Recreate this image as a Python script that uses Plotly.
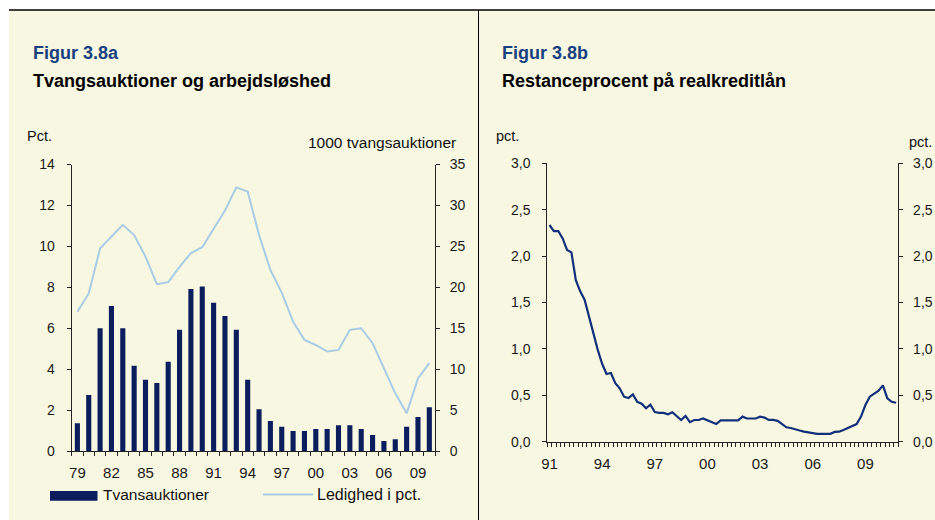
import plotly.graph_objects as go

# ---------------- data ----------------
years_a = list(range(1979, 2011))
tvangsauktioner = [3.4, 6.85, 15.0, 17.7, 15.0, 10.4, 8.7, 8.3, 10.9, 14.8,
                   19.8, 20.1, 18.1, 16.5, 14.8, 8.7, 5.1, 3.65, 2.95, 2.45,
                   2.45, 2.7, 2.7, 3.15, 3.15, 2.7, 1.95, 1.22, 1.45, 2.95,
                   4.15, 5.35]
ledighed = [6.8, 7.7, 9.9, 10.45, 11.05, 10.55, 9.5, 8.15, 8.25, 9.0,
            9.67, 9.96, 10.89, 11.75, 12.88, 12.68, 10.56, 8.85, 7.74, 6.32,
            5.43, 5.18, 4.86, 4.94, 5.92, 6.0, 5.27, 4.04, 2.82, 1.84,
            3.55, 4.29]
xticks_a = [1979, 1982, 1985, 1988, 1991, 1994, 1997, 2000, 2003, 2006, 2009]
xlabels_a = ["79", "82", "85", "88", "91", "94", "97", "00", "03", "06", "09"]

quarters_b = [1991 + q / 4 for q in range(80)]
restance = [2.335, 2.27, 2.27, 2.19, 2.066, 2.04, 1.74, 1.62, 1.53, 1.35,
            1.15, 0.99, 0.84, 0.73, 0.74, 0.63, 0.575, 0.485, 0.47, 0.51,
            0.43, 0.41, 0.36, 0.40, 0.32, 0.31, 0.31, 0.295, 0.317, 0.27,
            0.234, 0.277, 0.21, 0.234, 0.234, 0.25, 0.23, 0.21, 0.19, 0.23,
            0.23, 0.23, 0.23, 0.23, 0.27, 0.25, 0.25, 0.25, 0.27, 0.26,
            0.235, 0.235, 0.225, 0.19, 0.155, 0.148, 0.138, 0.12, 0.108, 0.1,
            0.085, 0.085, 0.085, 0.085, 0.085, 0.105, 0.108, 0.126, 0.15, 0.172,
            0.19, 0.27, 0.395, 0.485, 0.52, 0.55, 0.607, 0.467, 0.43, 0.42]
xticks_b = [1991, 1994, 1997, 2000, 2003, 2006, 2009]
xlabels_b = ["91", "94", "97", "00", "03", "06", "09"]

# ---------------- styling ----------------
W, H = 935, 520
CREAM = "#F8F7E1"
NAVY_BAR = "#0B1D5C"
LIGHT_BLUE = "#A9CBE3"
NAVY_LINE = "#12307A"
TITLE_BLUE = "#16407E"
AX = "#222222"
FONT = "Liberation Sans, Arial, sans-serif"


def px(x):
    return x / W


def py(y):
    return 1 - y / H


fig = go.Figure()

fig.add_trace(go.Bar(x=years_a, y=tvangsauktioner, name="Tvansauktioner",
                     marker=dict(color=NAVY_BAR, line=dict(width=0)),
                     width=0.45, xaxis="x", yaxis="y2", showlegend=False,
                     hoverinfo="skip"))
fig.add_trace(go.Scatter(x=years_a, y=ledighed, name="Ledighed i pct.",
                         mode="lines", line=dict(color=LIGHT_BLUE, width=2),
                         xaxis="x", yaxis="y", showlegend=False,
                         hoverinfo="skip"))
fig.add_trace(go.Scatter(x=quarters_b, y=restance, name="Restanceprocent",
                         mode="lines", line=dict(color=NAVY_LINE, width=2.2),
                         xaxis="x3", yaxis="y3", showlegend=False,
                         hoverinfo="skip"))
# same series bound to the mirrored right-hand axis (invisible) so it is drawn
fig.add_trace(go.Scatter(x=quarters_b, y=restance, name="Restanceprocent (h.)",
                         mode="lines", line=dict(color=NAVY_LINE, width=2.2),
                         opacity=0, xaxis="x3", yaxis="y4", showlegend=False,
                         hoverinfo="skip"))

tick_font = dict(family=FONT, size=14, color="#1a1a1a")
xtick_font = dict(family=FONT, size=15, color="#1a1a1a")

common_y = dict(showgrid=False, zeroline=False, showline=True, linecolor=AX,
                linewidth=1, ticks="outside", ticklen=4, tickcolor=AX,
                tickfont=tick_font)
common_x = dict(showgrid=False, zeroline=False, showline=True, linecolor=AX,
                linewidth=1, ticks="", tickfont=xtick_font,
                ticklabelstandoff=8)

fig.update_layout(
    width=W, height=H,
    margin=dict(l=0, r=0, t=0, b=0, autoexpand=False),
    paper_bgcolor="white", plot_bgcolor="rgba(0,0,0,0)",
    separators=",.",
    font=dict(family=FONT),
    showlegend=False,
    hovermode=False,
    xaxis=dict(domain=[px(71.7), px(435)], anchor="y",
               range=[1978.5, 2010.5], tickmode="array",
               tickvals=xticks_a, ticktext=xlabels_a,
               minor=dict(tickmode="array",
                          tickvals=[v - 0.5 for v in years_a] + [2010.5],
                          ticks="outside", ticklen=4, tickcolor=AX),
               **common_x),
    yaxis=dict(domain=[py(451), py(164.5)], anchor="x", range=[0, 14],
               dtick=2, side="left", ticklabelstandoff=9, **common_y),
    yaxis2=dict(overlaying="y", anchor="x", side="right", range=[0, 35],
                dtick=5, ticklabelstandoff=7, **common_y),
    xaxis3=dict(domain=[px(547.3), px(898.3)], anchor="y3",
                range=[1991 - 0.125, 2010.75 + 0.125], tickmode="array",
                tickvals=xticks_b, ticktext=xlabels_b,
                minor=dict(tickmode="array",
                           tickvals=[v - 0.125 for v in quarters_b] + [2010.875],
                           ticks="outside", ticklen=4, tickcolor=AX),
                **common_x),
    yaxis3=dict(domain=[py(441.7), py(163.3)], anchor="x3", range=[0, 3],
                dtick=0.5, tickformat=".1f", side="left",
                ticklabelstandoff=9, **common_y),
    yaxis4=dict(overlaying="y3", anchor="x3", side="right", range=[0, 3],
                dtick=0.5, tickformat=".1f", ticklabelstandoff=7, **common_y),
)

shapes = [
    dict(type="rect", xref="paper", yref="paper", x0=px(9), x1=1.0,
         y0=0, y1=py(10), fillcolor=CREAM, line=dict(width=0), layer="below"),
    dict(type="line", xref="paper", yref="paper", x0=px(9), x1=1.0,
         y0=py(10), y1=py(10), line=dict(color="black", width=1.5)),
    dict(type="line", xref="paper", yref="paper", x0=px(478.5), x1=px(478.5),
         y0=0, y1=py(10), line=dict(color="black", width=1)),
    # legend swatches
    dict(type="rect", xref="paper", yref="paper", x0=px(50), x1=px(97.5),
         y0=py(500.7), y1=py(491), fillcolor=NAVY_BAR, line=dict(width=0)),
    dict(type="line", xref="paper", yref="paper", x0=px(263), x1=px(313),
         y0=py(494.5), y1=py(494.5), line=dict(color=LIGHT_BLUE, width=2)),
]
fig.update_layout(shapes=shapes)


def ann(text, x, y, size, color="#111111", bold=False, xanchor="left"):
    t = f"<b>{text}</b>" if bold else text
    return dict(text=t, xref="paper", yref="paper", x=px(x), y=py(y),
                xanchor=xanchor, yanchor="middle", showarrow=False,
                font=dict(family=FONT, size=size, color=color))


annotations = [
    ann("Figur 3.8a", 31, 53, 18, TITLE_BLUE, True),
    ann("Tvangsauktioner og arbejdsløshed", 31, 81, 18, "#000000", True),
    ann("Figur 3.8b", 500, 53, 18, TITLE_BLUE, True),
    ann("Restanceprocent på realkreditlån", 500, 81, 18, "#000000", True),
    ann("Pct.", 25, 136.5, 14.5),
    ann("1000 tvangsauktioner", 458, 142.5, 15.5, xanchor="right"),
    ann("pct.", 494, 136, 14.5),
    ann("pct.", 934, 142, 14.5, xanchor="right"),
    ann("Tvansauktioner", 100.5, 494.5, 15.5),
    ann("Ledighed i pct.", 315, 494.5, 16),
]
fig.update_layout(annotations=annotations)

fig.write_html(
    "out.html",
    config={"displayModeBar": False, "staticPlot": True},
    post_script=(
        "document.documentElement.style.margin='0';"
        "document.documentElement.style.padding='0';"
        "document.body.style.margin='0';"
        "document.body.style.padding='0';"
        "document.body.style.overflow='hidden';"
        "var gd=document.getElementById('{plot_id}');"
        "gd.style.position='absolute';gd.style.left='0px';gd.style.top='0px';"
    ),
)
